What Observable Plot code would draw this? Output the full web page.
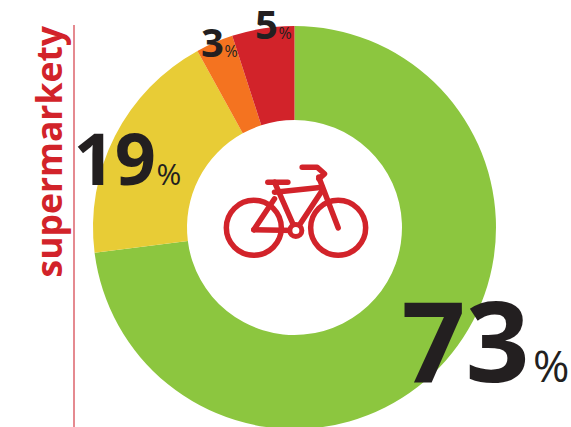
<!DOCTYPE html>
<html><head><meta charset="utf-8">
<style>html,body{margin:0;padding:0;background:#fff}svg{display:block}</style>
<script src="https://cdn.jsdelivr.net/npm/d3@7"></script>
<script src="https://cdn.jsdelivr.net/npm/@observablehq/plot@0.6"></script>
</head><body><script>
const labels = ["zielony", "żółty", "pomarańczowy", "czerwony"];
const shares = [73, 19, 3, 5];
const colors = ["#8CC63F", "#E8CC36", "#F47320", "#D2232A"];
const title = "supermarkety";

const W = 571, H = 427;
const centre = {x: 294.5, y: 227.5}, outerR = 201.5, innerR = 107.5;
const ink = "#231F20", red = "#D2232A";
const angle = d3.scaleLinear([0, 100], [0, 2 * Math.PI]);

function donut(index, scales, values) {
  const cum = [0, ...d3.cumsum(shares)];
  const arc = d3.arc().innerRadius(innerR).outerRadius(outerR);
  const g = d3.create("svg:g");
  for (const i of index) {
    g.append("path")
      .attr("transform", `translate(${values.x[i]},${values.y[i]})`)
      .attr("fill", values.fill[i])
      .attr("d", arc({startAngle: angle(cum[i]), endAngle: angle(cum[i + 1])}));
  }
  return g.node();
}

// value labels: anchored per slice, number and percent sign set separately
const labelLayout = [
  {x: 401, y: 381.5, size: 112, px: 532.5, psize: 44},
  {x: 73, y: 184, size: 72, px: 156, psize: 30},
  {x: 200.5, y: 56, size: 40, px: 224, psize: 16},
  {x: 254.5, y: 38.5, size: 40, px: 278, psize: 16}
];
const font = "'Open Sans', sans-serif";
const labelMarks = shares.flatMap((v, i) => {
  const l = labelLayout[i];
  return [
    Plot.text([v], {x: () => l.x, y: () => l.y, text: d => String(d), fontSize: l.size, fontWeight: 700,
      fontFamily: font, fill: ink, textAnchor: "start", lineAnchor: "bottom"}),
    Plot.text(["%"], {x: () => l.px, y: () => l.y, text: d => d, fontSize: l.psize, fontWeight: 400,
      fontFamily: font, fill: ink, textAnchor: "start", lineAnchor: "bottom"})
  ];
});

// bicycle pictogram
const bx = z => 190 + z / 3, by = z => 140 + z / 3;
const bikeParts = [
  [[232, 125], [292, 125]],
  [[252, 125], [316, 270]],
  [[252, 155], [395, 140]],
  [[395, 150], [316, 270]],
  [[190, 268], [316, 270]],
  [[252, 175], [190, 268]],
  [[385, 110], [443, 262]],
  [[335, 80], [380, 80], [402, 100], [385, 115]]
];
const bikeLines = bikeParts.flatMap((p, k) => p.map(([x, y]) => ({k, x: bx(x), y: by(y)})));
const wheels = [{x: bx(190), y: by(262)}, {x: bx(443), y: by(262)}];
const hub = [{x: bx(316), y: by(270)}];

const chart = Plot.plot({
  width: W, height: H, margin: 0,
  style: {background: "#fff"},
  x: {domain: [0, W], range: [0, W], axis: null},
  y: {domain: [0, H], range: [0, H], axis: null},
  color: {domain: labels, range: colors},
  marks: [
    Plot.ruleX([73.5], {y1: 25, y2: H, stroke: "#E58A90", strokeWidth: 2}),
    Plot.text([title], {x: () => 61.5, y: () => 277, text: d => d, rotate: -90, fontSize: 35.5, fontWeight: 700,
      fontFamily: font, fill: red, textAnchor: "start", lineAnchor: "bottom"}),
    Plot.dot(labels, {x: () => centre.x, y: () => centre.y, fill: d => d, render: donut}),
    Plot.line(bikeLines, {x: "x", y: "y", z: "k", stroke: red, strokeWidth: 5.5, strokeLinecap: "round", strokeLinejoin: "round", curve: "linear"}),
    Plot.dot(wheels, {x: "x", y: "y", r: 27.5, stroke: red, strokeWidth: 5.5, fill: "none"}),
    Plot.dot(hub, {x: "x", y: "y", r: 6, stroke: red, strokeWidth: 5, fill: "#fff"}),
    ...labelMarks
  ]
});
document.body.appendChild(chart);
</script></body></html>
